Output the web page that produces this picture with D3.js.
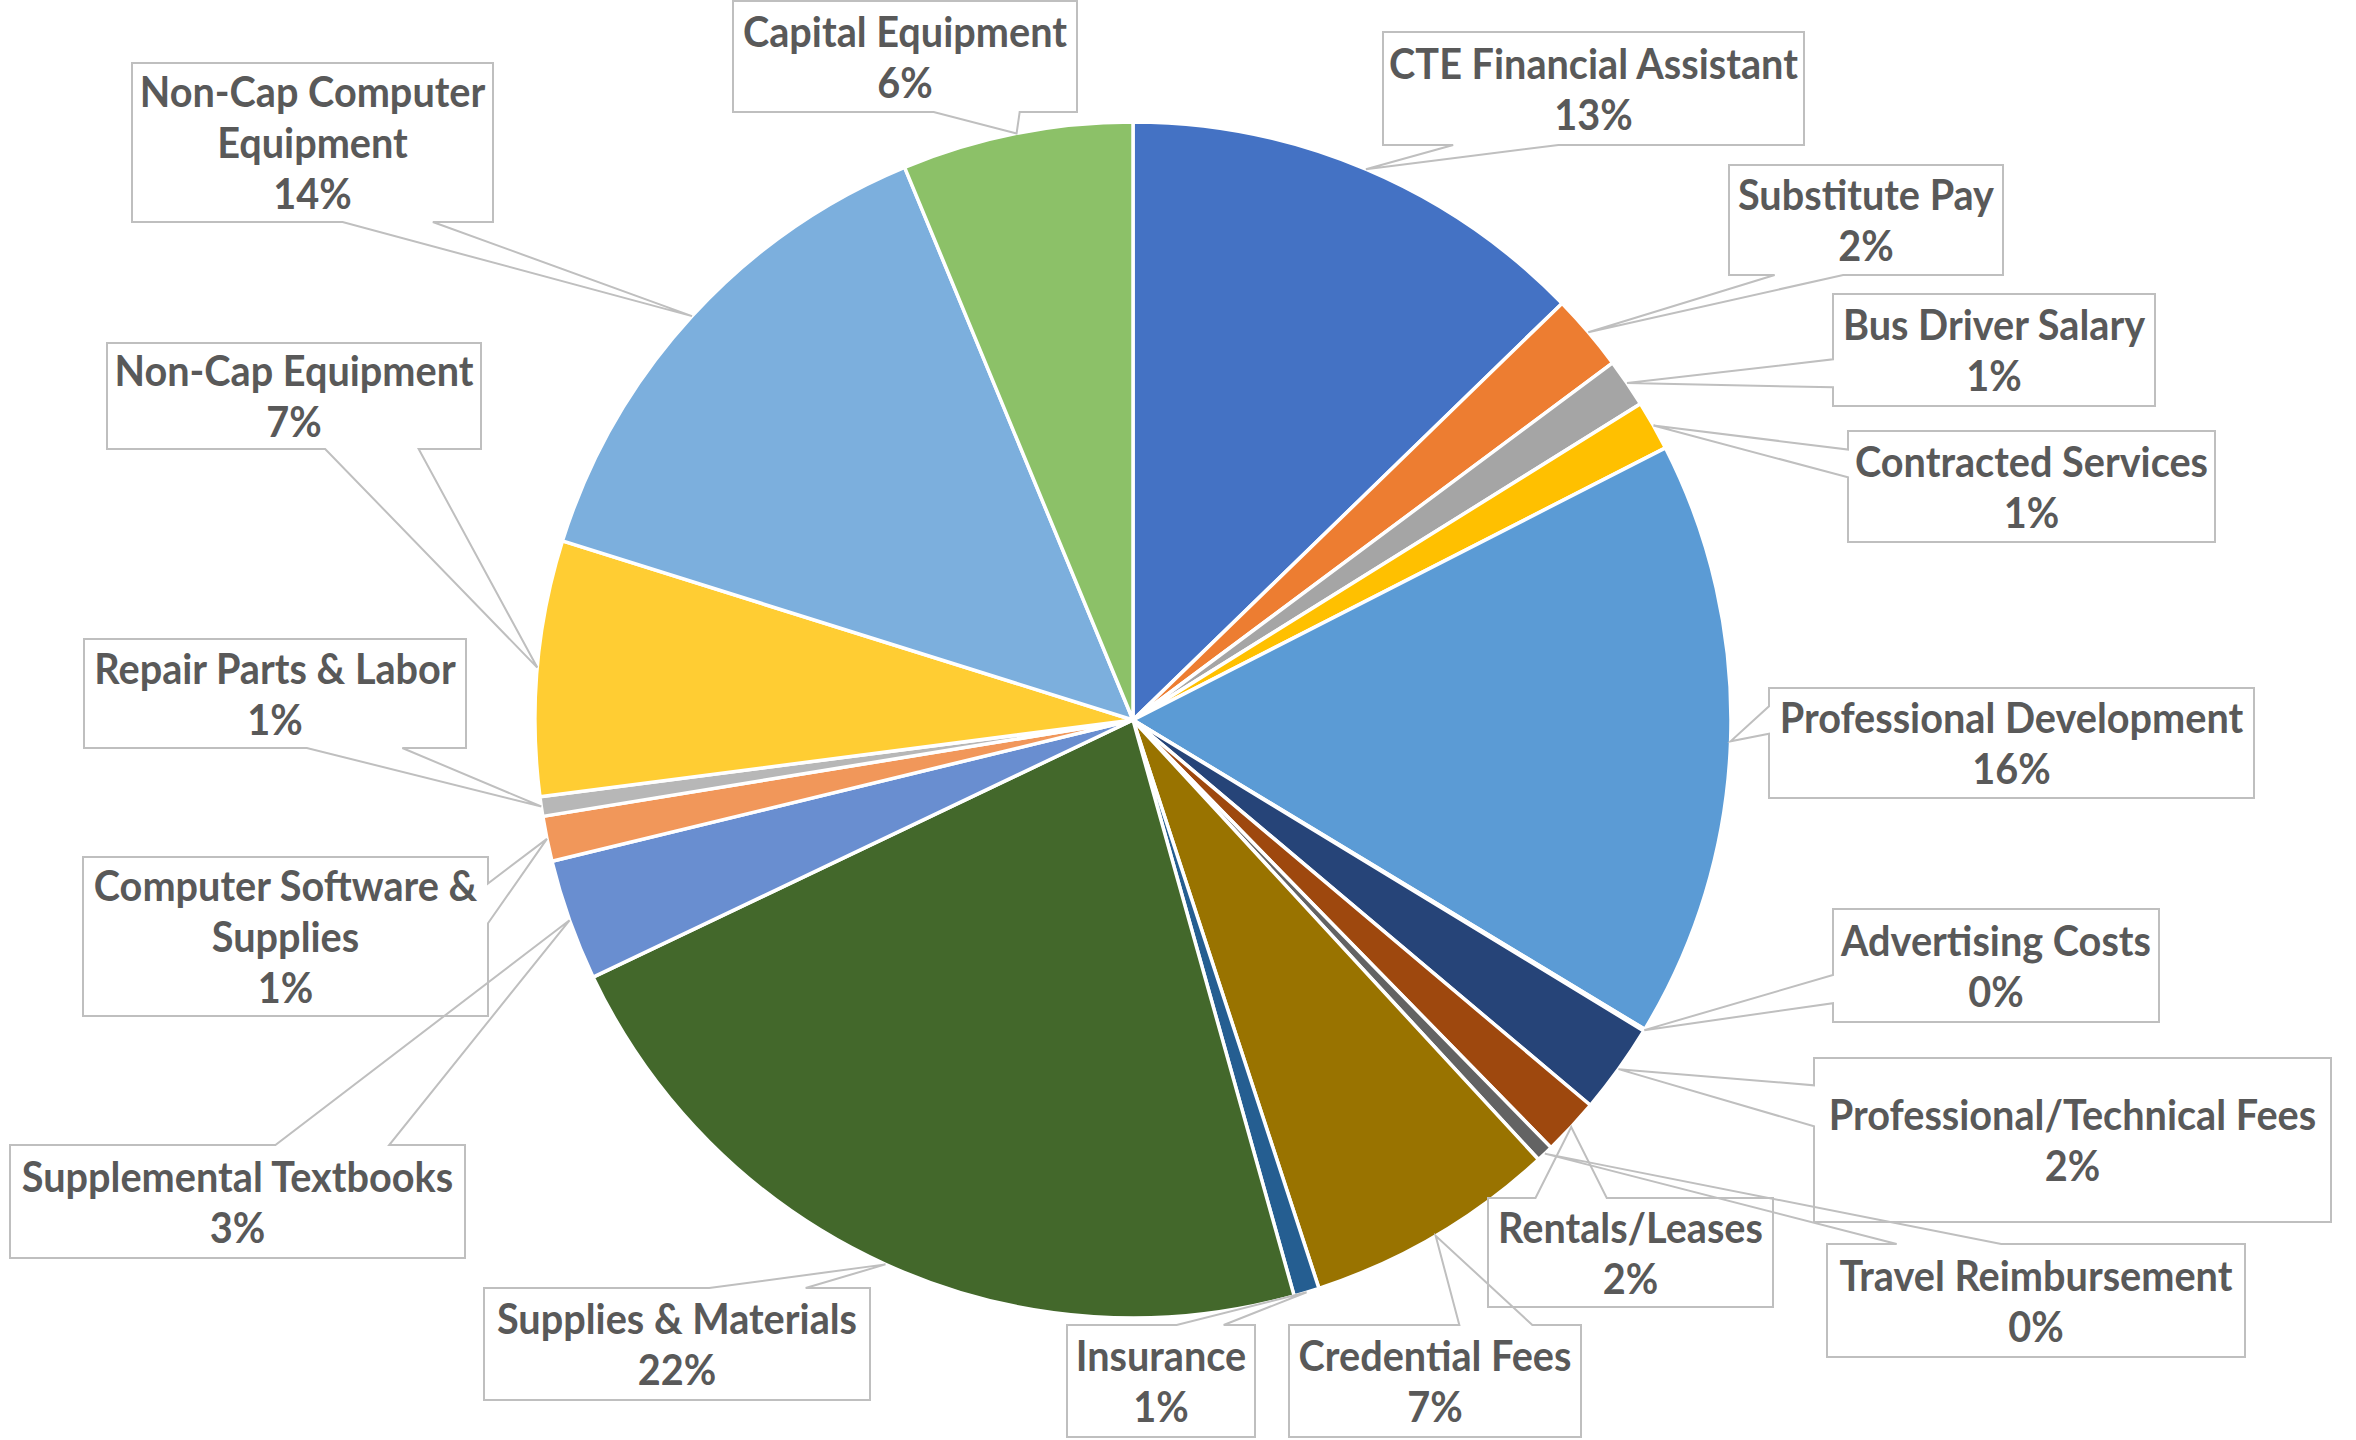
<!DOCTYPE html>
<html><head><meta charset="utf-8">
<script src="https://cdn.jsdelivr.net/npm/d3@7"></script>
<style>body{margin:0;background:#fff;} svg{display:block;}</style>
</head><body>
<svg id="chart" width="2356" height="1440"></svg>
<script>
// ---- data ----
const categories = ["CTE Financial Assistant","Substitute Pay","Bus Driver Salary","Contracted Services",
  "Professional Development","Advertising Costs","Professional/Technical Fees","Rentals/Leases",
  "Travel Reimbursement","Credential Fees","Insurance","Supplies & Materials","Supplemental Textbooks",
  "Computer Software & Supplies","Repair Parts & Labor","Non-Cap Equipment","Non-Cap Computer Equipment",
  "Capital Equipment"];
const values = [12.74,2.08,1.32,1.35,16.18,0.05,2.44,1.54,0.46,6.83,0.69,22.28,3.28,1.22,0.53,6.89,13.93,6.24];
const colors = ["#4472C4","#ED7D31","#A5A5A5","#FFC000","#5B9BD5","#70AD47","#264478","#9E480E","#636363",
  "#997300","#255E91","#43682B","#698ED0","#F1975A","#B7B7B7","#FFCD33","#7CAFDD","#8CC168"];

// ---- layout (label callout boxes: x0, y0, x1, y1) ----
const labelBoxes = [
  [1383,32,1804,145],[1729,165,2003,275],[1833,294,2155,406],[1848,431,2215,542],
  [1769,688,2254,798],[1833,909,2159,1022],[1814,1058,2331,1222],[1488,1198,1773,1307],
  [1827,1244,2245,1357],[1289,1325,1581,1437],[1067,1325,1255,1437],[484,1288,870,1400],
  [10,1145,465,1258],[83,857,488,1016],[84,639,466,748],[107,343,481,449],
  [132,63,493,222],[733,1,1077,112]
];
const firstLineWords = {13: 3, 16: 2};

const W = 2356, H = 1440;
const cx = 1133, cy = 720, R = 598;
const textColor = "#595959", lineColor = "#BFBFBF";
const fontFamily = "Lato, 'Open Sans', sans-serif";
const fontSize = 42, lineH = 51;

const svg = d3.select("#chart");
const total = d3.sum(values);
const data = categories.map((c,i)=>({name:c, value:values[i], color:colors[i], i}));

const pie = d3.pie().value(d=>d.value).sort(null).startAngle(0).endAngle(2*Math.PI);
const arcs = pie(data);
const arc = d3.arc().innerRadius(0).outerRadius(R);

const gPie = svg.append("g").attr("transform",`translate(${cx},${cy})`);
gPie.selectAll("path").data(arcs).join("path")
  .attr("d",arc)
  .attr("fill",d=>d.data.color)
  .attr("stroke","#fff")
  .attr("stroke-width",3.5)
  .attr("stroke-linejoin","round");

// measure horizontal compression to mimic narrow font
const probe = svg.append("text").attr("font-family",fontFamily).attr("font-weight","bold")
  .attr("font-size",fontSize).text("CTE Financial Assistant");
const kx = 409 / probe.node().getComputedTextLength();
probe.remove();

const gLab = svg.append("g");
arcs.forEach((a,i)=>{
  const mid = (a.startAngle + a.endAngle)/2;
  const ax = cx + R*Math.sin(mid), ay = cy - R*Math.cos(mid);
  const [x0,y0,x1,y1] = labelBoxes[i];
  const w = x1-x0, h = y1-y0, bcx = (x0+x1)/2, bcy = (y0+y1)/2;
  const dx = ax-bcx, dy = ay-bcy;
  const dz = Math.abs(dy) - Math.abs(dx)*h/w;
  let p;
  if (dz > 0) {
    const xa = x0 + w*(dx>0?7:2)/12, xb = x0 + w*(dx>0?10:5)/12;
    if (dy < 0) p = [[x0,y0],[xa,y0],[ax,ay],[xb,y0],[x1,y0],[x1,y1],[x0,y1]];
    else p = [[x0,y0],[x1,y0],[x1,y1],[xb,y1],[ax,ay],[xa,y1],[x0,y1]];
  } else {
    const ya = y0 + h*(dy>0?7:2)/12, yb = y0 + h*(dy>0?10:5)/12;
    if (dx < 0) p = [[x0,y0],[x1,y0],[x1,y1],[x0,y1],[x0,yb],[ax,ay],[x0,ya]];
    else p = [[x0,y0],[x1,y0],[x1,ya],[ax,ay],[x1,yb],[x1,y1],[x0,y1]];
  }
  gLab.append("path").attr("d", d3.line()(p)+"Z")
    .attr("fill","none").attr("stroke",lineColor).attr("stroke-width",2);

  const words = a.data.name.split(" ");
  const lines = firstLineWords[i] ? [words.slice(0,firstLineWords[i]).join(" "), words.slice(firstLineWords[i]).join(" ")] : [a.data.name];
  lines.push(Math.round(a.data.value/total*100) + "%");
  const n = lines.length;
  const g = gLab.append("g").attr("transform",`translate(${bcx},0) scale(${kx},1)`);
  lines.forEach((t,j)=>{
    g.append("text")
      .attr("x",0)
      .attr("y", bcy + (j-(n-1)/2)*lineH + 16)
      .attr("text-anchor","middle")
      .attr("font-family",fontFamily).attr("font-weight","bold")
      .attr("font-size",fontSize).attr("fill",textColor)
      .text(t);
  });
});
</script>
</body></html>
